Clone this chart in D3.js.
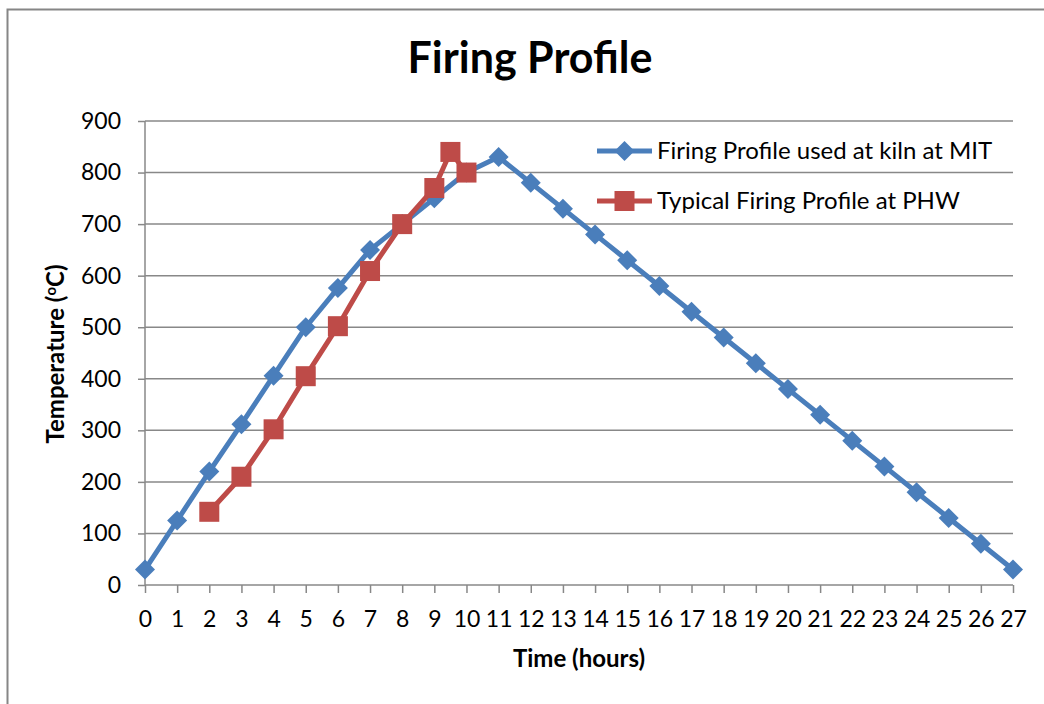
<!DOCTYPE html>
<html><head><meta charset="utf-8">
<script src="https://cdn.jsdelivr.net/npm/d3@7"></script>
<style>body{margin:0;background:#fff}svg{display:block}</style>
</head><body>
<svg id="c" width="1044" height="704"></svg>
<script>
const title = "Firing Profile";
const xLabel = "Time (hours)";
const yLabelMain = "Temperature (";
const seriesNames = ["Firing Profile used at kiln at MIT", "Typical Firing Profile at PHW"];
const mitHours = [0,1,2,3,4,5,6,7,8,9,10,11,12,13,14,15,16,17,18,19,20,21,22,23,24,25,26,27];
const mitTemps = [30,125,220,312,406,500,576,650,700,750,800,830,780,730,680,630,580,530,480,430,380,330,280,230,180,130,80,30];
const phwHours = [2,3,4,5,6,7,8,9,9.5,10];
const phwTemps = [142,210,302,405,502,609,700,770,840,800];
const xTicks = d3.range(0,28);
const yTicks = [0,100,200,300,400,500,600,700,800,900];
const colors = ["#4a7ebb","#be4b48"];

const svg = d3.select("#c");
const font = "Lato, 'Open Sans', sans-serif";
// outer chart border
svg.append("path").attr("d","M7.5,704 L7.5,9.5 L1044,9.5").attr("fill","none").attr("stroke","#868686").attr("stroke-width",2);

const x = d3.scaleLinear().domain([0,27]).range([145,1013]);
const y = d3.scaleLinear().domain([0,900]).range([585,121]);

// gridlines
svg.append("g").selectAll("line").data(yTicks.filter(d=>d>0)).join("line")
  .attr("x1",x(0)).attr("x2",x(27)).attr("y1",d=>y(d)).attr("y2",d=>y(d))
  .attr("stroke","#888").attr("stroke-width",1.5);

const yAxis = svg.append("g").attr("transform",`translate(${x(0)},0)`)
  .call(d3.axisLeft(y).tickValues(yTicks).tickSize(7).tickPadding(17));
const xAxis = svg.append("g").attr("transform",`translate(0,${y(0)})`)
  .call(d3.axisBottom(x).tickValues(xTicks).tickSize(8));
[yAxis,xAxis].forEach(a=>{
  a.select(".domain").attr("stroke","#888").attr("stroke-width",1.5);
  a.selectAll(".tick line").attr("stroke","#888").attr("stroke-width",1.5);
  a.selectAll("text").attr("font-family",font).attr("font-size",23).attr("fill","#000");
});
xAxis.selectAll(".tick text").attr("y",42).attr("dy",0);
xAxis.select(".domain").attr("d",`M${x(0)},0H${x(27)}`);
yAxis.select(".domain").attr("d",`M0,${y(900)}V${y(0)}`);

const line = d3.line().x(d=>x(d[0])).y(d=>y(d[1]));
const mit = mitHours.map((h,i)=>[h,mitTemps[i]]);
const phw = phwHours.map((h,i)=>[h,phwTemps[i]]);

svg.append("path").datum(mit).attr("d",line).attr("fill","none").attr("stroke",colors[0]).attr("stroke-width",5).attr("stroke-linejoin","round");
svg.append("g").selectAll("path").data(mit).join("path")
  .attr("d",d3.symbol(d3.symbolSquare,200))
  .attr("transform",d=>`translate(${x(d[0])},${y(d[1])}) rotate(45)`)
  .attr("fill",colors[0]);

svg.append("path").datum(phw).attr("d",line).attr("fill","none").attr("stroke",colors[1]).attr("stroke-width",5).attr("stroke-linejoin","round");
svg.append("g").selectAll("rect").data(phw).join("rect")
  .attr("x",d=>x(d[0])-10).attr("y",d=>y(d[1])-10).attr("width",20).attr("height",20)
  .attr("fill",colors[1]);

// title
svg.append("text").attr("x",530).attr("y",73).attr("text-anchor","middle")
  .attr("font-family",font).attr("font-weight","bold").attr("font-size",43).text(title);

// axis titles
svg.append("text").attr("x",579).attr("y",667).attr("text-anchor","middle")
  .attr("font-family",font).attr("font-weight","bold").attr("font-size",24).text(xLabel);
const yl = svg.append("text").attr("transform","translate(64,354) rotate(-90)").attr("text-anchor","middle")
  .attr("font-family",font).attr("font-weight","bold").attr("font-size",24);
yl.append("tspan").text(yLabelMain);
yl.append("tspan").attr("font-size",15).attr("dy",-8).text("o");
yl.append("tspan").attr("dy",8).text("C)");

// legend
const lg = svg.append("g");
[0,1].forEach(i=>{
  const ly = 151 + i*50;
  lg.append("line").attr("x1",597).attr("x2",652).attr("y1",ly).attr("y2",ly).attr("stroke",colors[i]).attr("stroke-width",5);
  if(i===0){
    lg.append("path").attr("d",d3.symbol(d3.symbolSquare,200)).attr("transform",`translate(624.5,${ly}) rotate(45)`).attr("fill",colors[0]);
  } else {
    lg.append("rect").attr("x",614.5).attr("y",ly-10).attr("width",20).attr("height",20).attr("fill",colors[1]);
  }
  lg.append("text").attr("x",657).attr("y",ly+8).attr("font-family",font).attr("font-size",24).text(seriesNames[i]);
});
</script>
</body></html>
